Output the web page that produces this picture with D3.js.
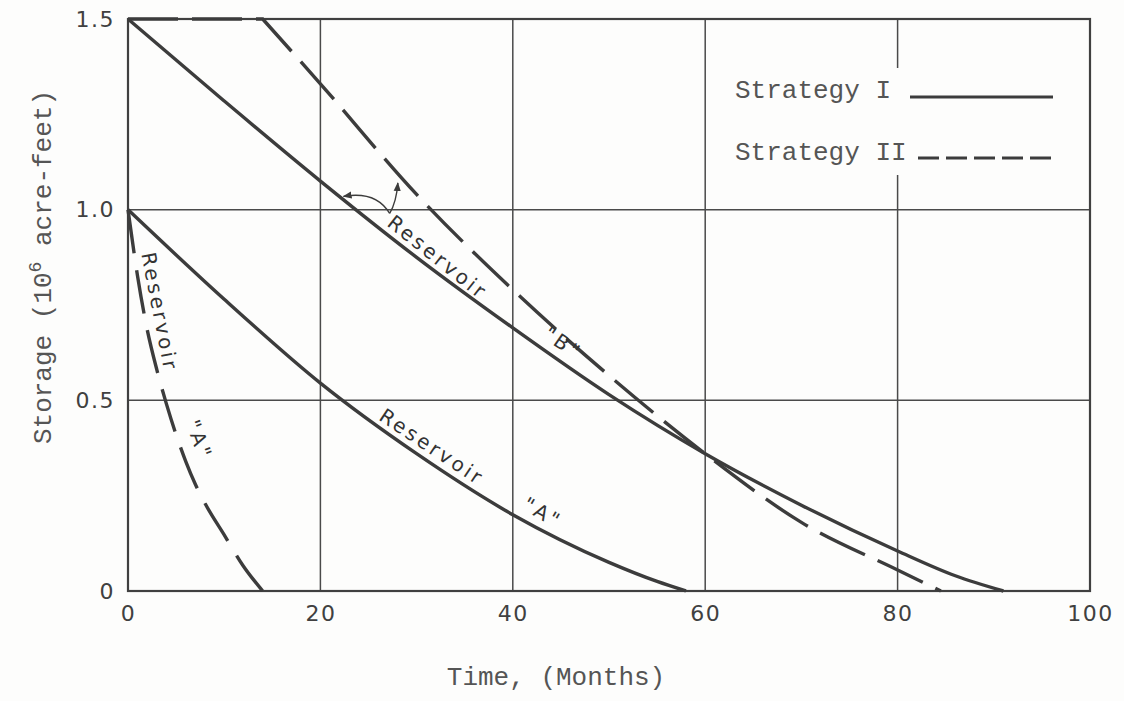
<!DOCTYPE html>
<html>
<head>
<meta charset="utf-8">
<script src="https://cdn.jsdelivr.net/npm/d3@7"></script>
<style>
  body { margin: 0; background: #fdfdfc; }
  svg { display: block; }
</style>
</head>
<body>
<svg id="chart" width="1124" height="701"></svg>
<script>
// Storage vs time, two reservoirs, two strategies

// strategy I (solid), reservoir B
var resB_s1_t = [0, 10, 20, 30, 40, 50, 60, 70, 80, 86, 91];
var resB_s1_v = [1.5, 1.285, 1.075, 0.875, 0.69, 0.515, 0.36, 0.225, 0.105, 0.04, 0];
// strategy II (dashed), reservoir B
var resB_s2_t = [0, 14, 20, 30, 40, 50, 60, 70, 80, 84.5];
var resB_s2_v = [1.5, 1.5, 1.33, 1.04, 0.79, 0.565, 0.36, 0.18, 0.055, 0];
// strategy I (solid), reservoir A
var resA_s1_t = [0, 10, 20, 30, 40, 50, 55, 58];
var resA_s1_v = [1.0, 0.765, 0.545, 0.36, 0.20, 0.075, 0.025, 0];
// strategy II (dashed), reservoir A
var resA_s2_t = [0, 1, 2, 3, 4, 5, 6, 7, 8, 10, 12, 14];
var resA_s2_v = [1.0, 0.825, 0.685, 0.58, 0.49, 0.41, 0.34, 0.28, 0.23, 0.147, 0.065, 0];

var xTicks = [0, 20, 40, 60, 80, 100];
var xTickLabels = ["0", "20", "40", "60", "80", "100"];
var yTicks = [0, 0.5, 1.0, 1.5];
var yTickLabels = ["0", "0.5", "1.0", "1.5"];

var legendNames = ["Strategy I", "Strategy II"];

// on-curve notes: [t, storage, angle, text]
var notes = [
  [32.2, 0.875, 38.5, "Reservoir"],
  [45.2, 0.650, 35, "\"B\""],
  [31.6, 0.378, 33.5, "Reservoir"],
  [43.1, 0.205, 30, "\"A\""],
  [3.3, 0.732, 79, "Reservoir"],
  [7.4, 0.396, 70, "\"A\""]
];
// pointer arrows from the "Reservoir B" note: [start, control, tip]
var arrows = [
  [[27.2, 0.99], [25.8, 1.05], [22.4, 1.035]],
  [[27.2, 0.99], [27.9, 1.02], [28.05, 1.07]]
];

var svg = d3.select("#chart");
var mLeft = 128, mRight = 1090, mTop = 19, mBottom = 591;

var x = d3.scaleLinear().domain([0, 100]).range([mLeft, mRight]);
var y = d3.scaleLinear().domain([0, 1.5]).range([mBottom, mTop]);

var ink = "#3c3c3c";
var mono = "'Liberation Mono', 'DejaVu Sans Mono', monospace";
var sans = "'DejaVu Sans', sans-serif";

// grid
svg.append("g").selectAll("line").data([20, 40, 60, 80]).enter().append("line")
  .attr("x1", d => x(d)).attr("x2", d => x(d))
  .attr("y1", y(0)).attr("y2", y(1.5))
  .attr("stroke", "#4a4a4a").attr("stroke-width", 1.5);
svg.append("g").selectAll("line").data([0.5, 1.0]).enter().append("line")
  .attr("x1", x(0)).attr("x2", x(100))
  .attr("y1", d => y(d)).attr("y2", d => y(d))
  .attr("stroke", "#4a4a4a").attr("stroke-width", 1.5);

// legend backing hides the grid line behind the text
svg.append("rect")
  .attr("x", 722).attr("y", 68).attr("width", 345).attr("height", 107)
  .attr("fill", "#fdfdfc");

// frame
svg.append("rect")
  .attr("x", x(0)).attr("y", y(1.5))
  .attr("width", x(100) - x(0)).attr("height", y(0) - y(1.5))
  .attr("fill", "none").attr("stroke", "#404040").attr("stroke-width", 2.2);

// axes (labels only; the frame is drawn above)
function styleTicks(g) {
  g.select(".domain").remove();
  g.attr("font-family", sans).attr("font-size", 22);
  g.selectAll("text").attr("fill", "#404040").attr("letter-spacing", "1.5px");
}
var xAxis = d3.axisBottom(x).tickValues(xTicks).tickSize(0).tickPadding(14)
  .tickFormat((d, i) => xTickLabels[i]);
svg.append("g").attr("transform", "translate(0," + mBottom + ")").call(xAxis).call(styleTicks);

var yAxis = d3.axisLeft(y).tickValues(yTicks).tickSize(0).tickPadding(13)
  .tickFormat((d, i) => yTickLabels[i]);
svg.append("g").attr("transform", "translate(" + mLeft + ",0)").call(yAxis).call(styleTicks);

// curves
var line = d3.line().x(d => x(d[0])).y(d => y(d[1])).curve(d3.curveMonotoneX);
var flat = d3.line().x(d => x(d[0])).y(d => y(d[1]));

function pairs(t, v) { return t.map((d, i) => [d, v[i]]); }

var sB1 = pairs(resB_s1_t, resB_s1_v);
var sB2 = pairs(resB_s2_t, resB_s2_v);
var sA1 = pairs(resA_s1_t, resA_s1_v);
var sA2 = pairs(resA_s2_t, resA_s2_v);

// dashed B: straight flat top, then a smooth fall (kept as one path so dashes flow)
var b2path = flat(sB2.slice(0, 2)) + line(sB2.slice(1)).replace(/^M[^A-Za-z]*/, "");

svg.append("path").attr("d", line(sB1))
  .attr("fill", "none").attr("stroke", ink).attr("stroke-width", 3.4);
svg.append("path").attr("d", b2path)
  .attr("fill", "none").attr("stroke", ink).attr("stroke-width", 3.4)
  .attr("stroke-dasharray", "50,14");
svg.append("path").attr("d", line(sA1))
  .attr("fill", "none").attr("stroke", ink).attr("stroke-width", 3.4);
svg.append("path").attr("d", line(sA2))
  .attr("fill", "none").attr("stroke", ink).attr("stroke-width", 3.4)
  .attr("stroke-dasharray", "44,17");

// notes
svg.append("g").selectAll("text").data(notes).enter().append("text")
  .attr("font-family", sans).attr("font-size", 20)
  .attr("letter-spacing", "3px").attr("fill", "#333")
  .attr("text-anchor", "middle")
  .attr("dominant-baseline", "central")
  .attr("transform", d => "translate(" + x(d[0]) + "," + y(d[1]) + ") rotate(" + d[2] + ")")
  .text(d => d[3]);

// arrows
svg.append("defs").append("marker")
  .attr("id", "head").attr("viewBox", "0 0 10 10")
  .attr("refX", 9).attr("refY", 5)
  .attr("markerWidth", 9).attr("markerHeight", 9)
  .attr("markerUnits", "userSpaceOnUse")
  .attr("orient", "auto")
  .append("path").attr("d", "M0,1 L10,5 L0,9 Z").attr("fill", ink);

svg.append("g").selectAll("path").data(arrows).enter().append("path")
  .attr("d", d => "M" + x(d[0][0]) + "," + y(d[0][1]) + " Q" + x(d[1][0]) + "," + y(d[1][1]) +
    " " + x(d[2][0]) + "," + y(d[2][1]))
  .attr("fill", "none").attr("stroke", ink).attr("stroke-width", 1.4)
  .attr("marker-end", "url(#head)");

// legend
var leg = svg.append("g");
leg.selectAll("text").data(legendNames).enter().append("text")
  .attr("font-family", mono).attr("font-size", 26).attr("fill", "#555")
  .attr("x", 735).attr("y", (d, i) => 98 + i * 62)
  .text(d => d);
leg.append("line").attr("x1", 910).attr("x2", 1053).attr("y1", 97).attr("y2", 97)
  .attr("stroke", ink).attr("stroke-width", 3);
leg.append("line").attr("x1", 918).attr("x2", 1053).attr("y1", 158).attr("y2", 158)
  .attr("stroke", ink).attr("stroke-width", 3).attr("stroke-dasharray", "21,7");

// axis titles
svg.append("text")
  .attr("font-family", mono).attr("font-size", 26).attr("fill", "#555")
  .attr("x", 556).attr("y", 685).attr("text-anchor", "middle")
  .text("Time, (Months)");

var yt = svg.append("text")
  .attr("font-family", mono).attr("font-size", 26).attr("fill", "#555")
  .attr("text-anchor", "middle")
  .attr("transform", "translate(51,267) rotate(-90)");
yt.append("tspan").text("Storage (10");
yt.append("tspan").attr("baseline-shift", "super").attr("font-size", "18px").text("6");
yt.append("tspan").text(" acre-feet)");
</script>
</body>
</html>
